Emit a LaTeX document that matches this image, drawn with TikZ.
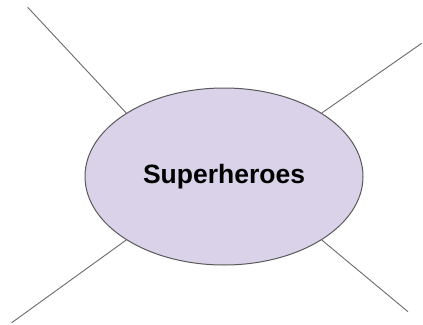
\documentclass[tikz,border=0pt]{standalone}
\usepackage{fontspec}
\setmainfont{Liberation Sans}
\usepackage{tikz}
\usetikzlibrary{
	calc,
	positioning,
	shapes.geometric,
}
\definecolor{lavender}{HTML}{D9D2E9}
\definecolor{rim}{HTML}{595959}
\tikzset{topic node/.style={
	draw=rim,
	fill=lavender,
	ellipse,
	inner sep=0mm,
	minimum width=278pt,
	minimum height=177pt,
	line width=1pt,
	font=\fontsize{26.5}{30}\selectfont\bfseries,
}}

\begin{document}
\begin{tikzpicture}[
x=1pt, y=-1pt,
spoke/.style={draw=rim!90, line width=0.9pt},
]
\useasboundingbox (0,0) rectangle (423,324);

\node[topic node](hero) at(224,176.5) {Superheroes};

\coordinate (nw) at(27.7,7.3);
\coordinate (ne) at(421.7,43.3);
\coordinate (sw) at(11.7,322.7);
\coordinate (se) at(408,311.7);

\begin{scope}[spoke]
\draw (nw) -- (hero.147);
\draw (ne) -- (hero.33);
\draw (sw) -- (hero.213);
\draw (se) -- (hero.327);
\end{scope}

\end{tikzpicture}
\end{document}
